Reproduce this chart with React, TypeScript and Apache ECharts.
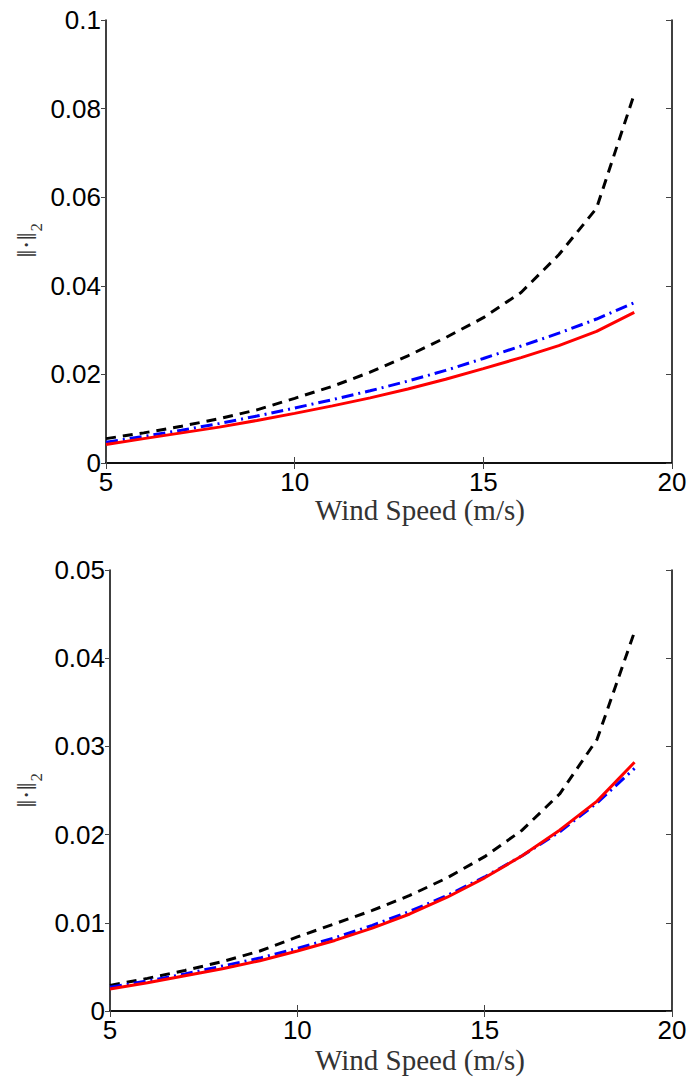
import React, { useEffect, useRef } from "react";
import * as echarts from "echarts";

const windSpeed = [5, 6, 7, 8, 9, 10, 11, 12, 13, 14, 15, 16, 17, 18, 19];

// Top panel
const topBlack = [0.0055, 0.0068, 0.0083, 0.0100, 0.0120, 0.0146, 0.0173, 0.0205, 0.0242, 0.0283, 0.0328, 0.0385, 0.0470, 0.0575, 0.0833];
const topBlue = [0.0047, 0.0060, 0.0074, 0.0089, 0.0106, 0.0124, 0.0143, 0.0163, 0.0185, 0.0209, 0.0236, 0.0264, 0.0293, 0.0325, 0.0362];
const topRed = [0.0042, 0.0055, 0.0068, 0.0081, 0.0096, 0.0112, 0.0129, 0.0147, 0.0167, 0.0189, 0.0213, 0.0238, 0.0265, 0.0297, 0.0340];

// Bottom panel
const botBlack = [0.0029, 0.0037, 0.0046, 0.0056, 0.0068, 0.0084, 0.0099, 0.0114, 0.0131, 0.0151, 0.0175, 0.0205, 0.0246, 0.0308, 0.0430];
const botBlue = [0.0027, 0.0034, 0.0042, 0.0051, 0.0060, 0.0071, 0.0083, 0.0097, 0.0113, 0.0131, 0.0152, 0.0176, 0.0203, 0.0236, 0.0275];
const botRed = [0.0025, 0.0032, 0.0040, 0.0048, 0.0057, 0.0068, 0.0080, 0.0094, 0.0110, 0.0129, 0.0151, 0.0176, 0.0205, 0.0238, 0.0282];

const topYTicks = { min: 0, max: 0.1, interval: 0.02 };
const botYTicks = { min: 0, max: 0.05, interval: 0.01 };
const xTicks = { min: 5, max: 20, interval: 5 };

const xLabel = "Wind Speed (m/s)";
const yLabel = "‖·‖₂";

const pair = (ys: number[]) => windSpeed.map((x, i) => [x, ys[i]]);

export default function App() {
  const ref = useRef<HTMLDivElement>(null);
  useEffect(() => {
    document.body.style.margin = "0";
    const chart = echarts.init(ref.current!, undefined, { renderer: "svg" });
    const axisLine = { show: true, lineStyle: { color: "#000", width: 1.5 } };
    const tick = { show: true, inside: true, length: 6, lineStyle: { color: "#444", width: 1 } };
    const tickOut = { show: true, inside: false, length: 5, lineStyle: { color: "#444", width: 1 } };
    const label = { show: true, color: "#000", fontSize: 26, fontFamily: "Liberation Sans", showMinLabel: true, showMaxLabel: true };
    const mkX = (gi: number) => [
      { type: "value", gridIndex: gi, ...xTicks, position: "bottom", axisLine, axisTick: tick, splitLine: { show: false }, axisLabel: { ...label, margin: 6 } },
      { type: "value", gridIndex: gi, ...xTicks, position: "top", axisLine, axisTick: tick, splitLine: { show: false }, axisLabel: { show: false } },
    ];
    const mkY = (gi: number, t: any) => [
      { type: "value", gridIndex: gi, ...t, position: "left", axisLine, axisTick: tickOut, splitLine: { show: false }, axisLabel: { ...label, margin: 5 } },
      { type: "value", gridIndex: gi, ...t, position: "right", axisLine, axisTick: tick, splitLine: { show: false }, axisLabel: { show: false } },
    ];
    const line = (data: number[], xi: number, yi: number, color: string, type: any) => ({
      type: "line",
      xAxisIndex: xi,
      yAxisIndex: yi,
      data: pair(data),
      showSymbol: false,
      symbol: "none",
      lineStyle: { color, width: 3, type },
      z: 3,
    });
    const dashed = [10, 7];
    const dashDot = [12, 5, 2, 5];
    const textStyle = { fontFamily: "Liberation Serif", fontSize: 29, fill: "#333" };
    chart.setOption({
      animation: false,
      grid: [
        { left: 106, top: 20, width: 566, height: 443 },
        { left: 110, top: 570, width: 562, height: 441 },
      ],
      xAxis: [...mkX(0), ...mkX(1)],
      yAxis: [...mkY(0, topYTicks), ...mkY(1, botYTicks)],
      series: [
        line(topBlack, 0, 0, "#000", dashed),
        line(topBlue, 0, 0, "#0000ff", dashDot),
        line(topRed, 0, 0, "#ff0000", "solid"),
        line(botBlack, 2, 2, "#000", dashed),
        line(botBlue, 2, 2, "#0000ff", dashDot),
        line(botRed, 2, 2, "#ff0000", "solid"),
      ],
      graphic: [
        { type: "text", x: 420, y: 510, style: { ...textStyle, text: xLabel, align: "center", verticalAlign: "middle" } },
        { type: "text", x: 420, y: 1060, style: { ...textStyle, text: xLabel, align: "center", verticalAlign: "middle" } },
        { type: "text", x: 26, y: 240, rotation: Math.PI / 2, style: { ...textStyle, fontSize: 28, text: yLabel, align: "center", verticalAlign: "middle" } },
        { type: "text", x: 26, y: 790, rotation: Math.PI / 2, style: { ...textStyle, fontSize: 28, text: yLabel, align: "center", verticalAlign: "middle" } },
      ],
    });
    return () => chart.dispose();
  }, []);
  return <div ref={ref} style={{ width: 693, height: 1081 }} />;
}
